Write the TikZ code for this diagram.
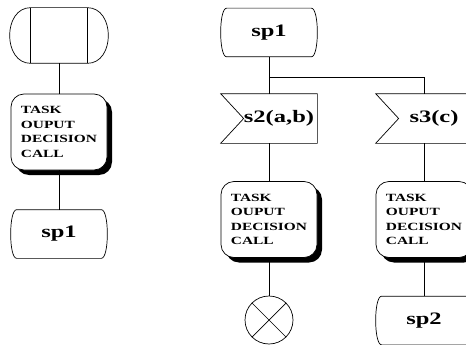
\documentclass[tikz,border=0pt]{standalone}
\usepackage{fontspec}
\setmainfont{Liberation Serif}[FakeStretch=1.4]
\usepackage{tikz}
\usetikzlibrary{shadows}

\tikzset{
  big/.style={font=\fontsize{17.5}{20}\selectfont\bfseries},
  taskbox/.style={draw, fill=white, rounded corners=13pt, minimum width=96pt, minimum height=76pt,
    inner sep=0pt, align=left, font=\fontsize{11}{14.5}\selectfont\bfseries,
    drop shadow={shadow xshift=5pt, shadow yshift=-5pt, opacity=1, fill=black}},
  statebox/.style={big, minimum width=96pt, minimum height=48pt, inner sep=0pt},
  startbox/.style={minimum width=98pt, minimum height=55pt, inner sep=0pt},
  inbox/.style={big, minimum width=96pt, minimum height=49pt, inner sep=0pt},
  stopbox/.style={draw, circle, minimum size=48pt, inner sep=0pt}
}

\begin{document}
\begin{tikzpicture}[x=1pt, y=-1pt, line width=0.7pt]
    \useasboundingbox (0,0) rectangle (466,345);
    \clip (0,0) rectangle (466,345);

    % left column
    \node[startbox] (start) at (59,35.5) {};
    \node[taskbox] (taskL) at (59,132) {TASK\\OUPUT\\DECISION\\CALL};
    \node[statebox] (sp1L) at (59,234) {sp1};

    % right part
    \node[statebox] (sp1R) at (269,32.5) {sp1};
    \coordinate (fork) at (269,77);
    \node[inbox] (s2) at (269,118.5) {\hspace*{20pt}s2(a,b)};
    \node[inbox] (s3) at (424,118.5) {\hspace*{20pt}s3(c)};
    \node[taskbox] (taskR) at (269,219.5) {TASK\\OUPUT\\DECISION\\CALL};
    \node[taskbox] (taskS) at (424,219.5) {TASK\\OUPUT\\DECISION\\CALL};
    \node[stopbox] (stop) at (269,320) {};
    \node[statebox] (sp2) at (424,320.5) {sp2};

    % outlines
    \draw ([xshift=21pt]start.north west) -- ([xshift=-21pt]start.north east)
      .. controls ([xshift=7pt]start.north east) and ([xshift=7pt]start.south east) .. ([xshift=-21pt]start.south east)
      -- ([xshift=21pt]start.south west)
      .. controls ([xshift=-7pt]start.south west) and ([xshift=-7pt]start.north west) .. cycle;
    \draw ([xshift=21pt]start.north west) -- ([xshift=21pt]start.south west);
    \draw ([xshift=-21pt]start.north east) -- ([xshift=-21pt]start.south east);
    \foreach \n in {sp1L,sp1R,sp2}
      \draw ([xshift=6pt]\n.north west) -- ([xshift=-6pt]\n.north east)
        .. controls ([xshift=2pt]\n.north east) and ([xshift=2pt]\n.south east) .. ([xshift=-6pt]\n.south east)
        -- ([xshift=6pt]\n.south west)
        .. controls ([xshift=-2pt]\n.south west) and ([xshift=-2pt]\n.north west) .. cycle;
    \foreach \n in {s2,s3}
      \draw (\n.north west) -- (\n.north east) -- (\n.south east) -- (\n.south west)
        -- ([xshift=23pt]\n.west) -- cycle;
    \draw (stop.north west) -- (stop.south east) (stop.north east) -- (stop.south west);

    % connectors
    \draw (start) -- (taskL);
    \draw (taskL) -- (sp1L);
    \draw (sp1R) -- (s2);
    \draw (fork) -| (s3);
    \draw (s2) -- (taskR);
    \draw (taskR) -- (stop);
    \draw (s3) -- (taskS);
    \draw (taskS) -- (sp2);
  \end{tikzpicture}
\end{document}
